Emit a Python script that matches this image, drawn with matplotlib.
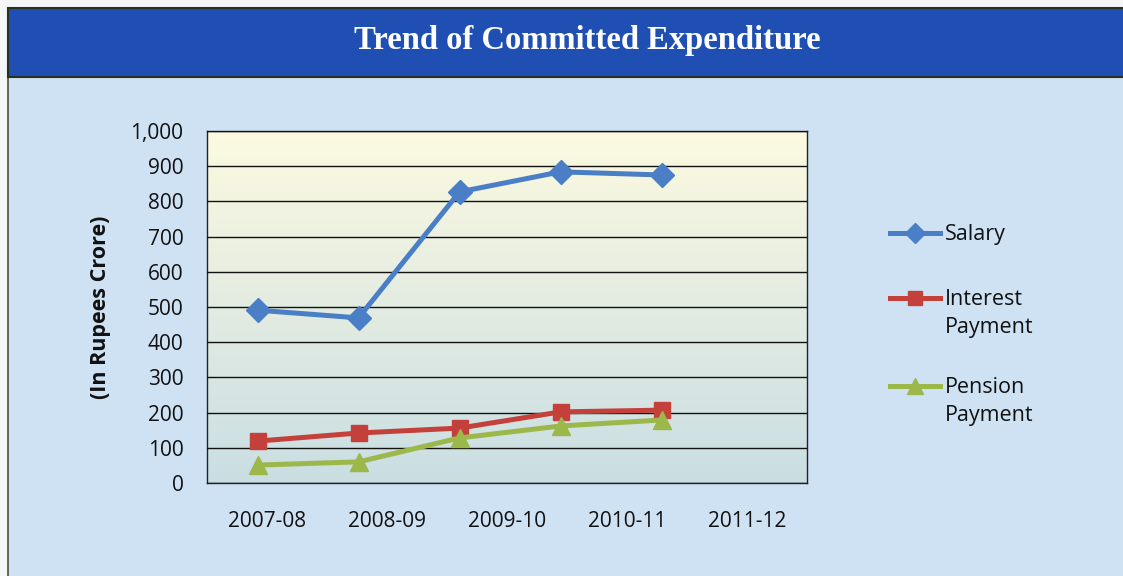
import numpy as np
import matplotlib.pyplot as plt
from matplotlib.lines import Line2D
from matplotlib.patches import Rectangle

# data (Rs. crore)
years = ["2007-08", "2008-09", "2009-10", "2010-11", "2011-12"]
salary = [491, 469, 827, 884, 875]
interest = [119, 142, 156, 202, 207]
pension = [51, 60, 128, 162, 179]

series_names = ["Salary", "Interest\nPayment", "Pension\nPayment"]
series_colors = ["#4a7ec6", "#c4413b", "#9cb84a"]
series_markers = ["D", "s", "^"]
series_msize = [12, 12, 13]

plt.rcParams['font.family'] = ['Open Sans', 'DejaVu Sans']

W, H = 1123, 576
fig = plt.figure(figsize=(W / 100, H / 100), dpi=100)
fig.patch.set_facecolor("#f4f6f8")

# body panel and title banner (kept behind the axes)
fig.patches.append(Rectangle((8 / W, -0.01), 1.0, 1 - 76 / H + 0.01, transform=fig.transFigure,
                             facecolor="#cfe2f4", edgecolor="#4a5236", linewidth=1.2, zorder=-2))
fig.patches.append(Rectangle((8 / W, 1 - 77 / H), 1.0, 69 / H, transform=fig.transFigure,
                             facecolor="#1f4fb2", edgecolor="#283020", linewidth=1.5, zorder=-1))
fig.text(0.523, 1 - 40 / H, "Trend of Committed Expenditure", color="white",
         family="Liberation Serif", weight="bold", fontsize=23.5, ha="center", va="center")

ax = fig.add_axes([207 / W, 1 - 483 / H, 600 / W, 352 / H])

# plot area gradient (light yellow at top to pale blue at bottom)
grad = np.linspace(0, 1, 256).reshape(-1, 1)
top = np.array([0.99, 0.98, 0.88])
bot = np.array([0.79, 0.87, 0.89])
img = top + (bot - top) * grad[:, :, None]
ax.imshow(img, extent=[0, 1, 0, 1], transform=ax.transAxes, aspect="auto", zorder=0)

x = np.arange(len(years))
for vals, c, m, ms in zip([salary, interest, pension], series_colors, series_markers, series_msize):
    ax.plot(x, vals, color=c, lw=3.6, marker=m, markersize=ms, zorder=3)

ax.set_xlim(-0.5, 5.44)
ax.set_ylim(0, 1000)
ax.set_yticks(np.arange(0, 1001, 100))
ax.set_yticklabels([f"{v:,}" for v in range(0, 1001, 100)], fontsize=15, color="#111111")
ax.yaxis.grid(True, color="#111111", lw=1.0)
ax.set_axisbelow(False)
ax.tick_params(axis="y", length=0, pad=17)
ax.set_xticks([])
for s in ax.spines.values():
    s.set_color("#222222")
    s.set_linewidth(1.0)
ax.set_ylabel("(In Rupees Crore)", fontsize=15.5, weight="bold", labelpad=14, color="#111111")

# category labels spread evenly across the plot area
lab = ax.twiny()
lab.set_xlim(-0.5, len(years) - 0.5)
lab.set_xticks(np.arange(len(years)))
lab.set_xticklabels(years, fontsize=15, color="#111111")
lab.xaxis.set_ticks_position("bottom")
lab.tick_params(axis="x", length=0, pad=20)
for s in lab.spines.values():
    s.set_visible(False)

# legend drawn by hand
leg_y = [233, 298, 386]
for name, c, m, ms, yy in zip(series_names, series_colors, series_markers, series_msize, leg_y):
    fy = 1 - yy / H
    fig.add_artist(Line2D([890 / W, 915 / W, 940 / W], [fy, fy, fy], color=c, lw=3.6, marker=m,
                          markersize=ms * 0.85, markevery=[1], transform=fig.transFigure))
    fig.text(945 / W, fy + 9 / H, name, fontsize=15.5, color="#111111", va="top",
             ha="left", linespacing=1.45)

fig.savefig("out.png", dpi=100, facecolor=fig.get_facecolor())
